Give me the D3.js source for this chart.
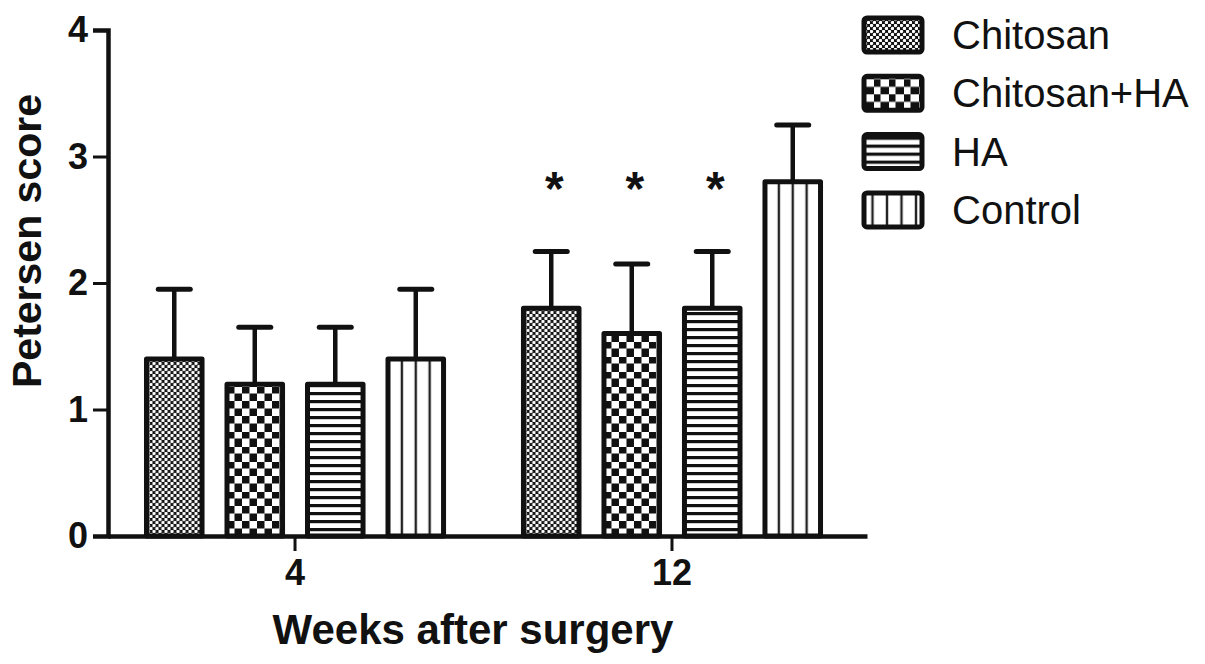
<!DOCTYPE html>
<html>
<head>
<meta charset="utf-8">
<script src="https://cdn.jsdelivr.net/npm/d3@7"></script>
<style>
  html, body { margin: 0; padding: 0; background: #fff; }
  svg { display: block; }
  text { font-family: "Liberation Sans", Arial, Helvetica, sans-serif; fill: #111; }
</style>
</head>
<body>
<svg id="chart" width="1205" height="664"></svg>
<script>
// ---------- data ----------
const groups = ["4", "12"];
const series = ["Chitosan", "Chitosan+HA", "HA", "Control"];
const means = {
  "4":  [1.4, 1.2, 1.2, 1.4],
  "12": [1.8, 1.6, 1.8, 2.8]
};
const sds = {
  "4":  [0.55, 0.45, 0.45, 0.55],
  "12": [0.45, 0.55, 0.45, 0.45]
};
const significant = {
  "4":  [false, false, false, false],
  "12": [true, true, true, false]
};
const sigLevel = 2.8;
const yTicks = [0, 1, 2, 3, 4];
const xTitle = "Weeks after surgery";
const yTitle = "Petersen score";
const patternKinds = ["dots", "checker", "hlines", "vlines"];

// ---------- layout ----------
const svg = d3.select("#chart");
const defs = svg.append("defs");
const axisX = 108, axisRight = 867, plotTop = 30, plotBottom = 536;

const y = d3.scaleLinear().domain([0, 4]).range([plotBottom, plotTop]);
const x0 = d3.scaleBand().domain(groups).range([axisX, axisRight])
  .paddingInner(0.212).paddingOuter(0.1127).align(0.453);
const x1 = d3.scaleBand().domain(series).range([0, x0.bandwidth()])
  .paddingInner(0.31).paddingOuter(0);

let pid = 0;
function makePattern(kind, bx, by, bw) {
  const id = "pat" + (pid++);
  let p;
  if (kind === "dots") {
    p = defs.append("pattern").attr("id", id).attr("patternUnits", "userSpaceOnUse")
      .attr("x", bx).attr("y", by).attr("width", 6).attr("height", 6);
    p.append("rect").attr("width", 6).attr("height", 6).attr("fill", "#111");
    p.append("circle").attr("cx", 1.5).attr("cy", 1.5).attr("r", 1.7).attr("fill", "#fff");
    p.append("circle").attr("cx", 4.5).attr("cy", 4.5).attr("r", 1.7).attr("fill", "#fff");
  } else if (kind === "checker") {
    const s = 7.5;
    p = defs.append("pattern").attr("id", id).attr("patternUnits", "userSpaceOnUse")
      .attr("x", bx).attr("y", by).attr("width", 2 * s).attr("height", 2 * s);
    p.append("rect").attr("width", 2 * s).attr("height", 2 * s).attr("fill", "#fff");
    p.append("rect").attr("x", 0).attr("y", 0).attr("width", s).attr("height", s).attr("fill", "#111");
    p.append("rect").attr("x", s).attr("y", s).attr("width", s).attr("height", s).attr("fill", "#111");
  } else if (kind === "hlines") {
    p = defs.append("pattern").attr("id", id).attr("patternUnits", "userSpaceOnUse")
      .attr("x", bx).attr("y", by).attr("width", 8).attr("height", 8);
    p.append("rect").attr("width", 8).attr("height", 8).attr("fill", "#fff");
    p.append("rect").attr("y", 0).attr("width", 8).attr("height", 3.2).attr("fill", "#111");
  } else {
    const w = bw / 4;
    p = defs.append("pattern").attr("id", id).attr("patternUnits", "userSpaceOnUse")
      .attr("x", bx).attr("y", by).attr("width", w).attr("height", 10);
    p.append("rect").attr("width", w).attr("height", 10).attr("fill", "#fff");
    p.append("rect").attr("x", -1.2).attr("width", 2.4).attr("height", 10).attr("fill", "#222");
    p.append("rect").attr("x", w - 1.2).attr("width", 2.4).attr("height", 10).attr("fill", "#222");
  }
  return "url(#" + id + ")";
}

// ---------- bars ----------
const g = svg.append("g");
groups.forEach(grp => {
  series.forEach((s, i) => {
    const bx = x0(grp) + x1(s);
    const bw = x1.bandwidth();
    const m = means[grp][i], sd = sds[grp][i];
    const cx = bx + bw / 2;
    g.append("line").attr("x1", cx).attr("x2", cx).attr("y1", y(m)).attr("y2", y(m + sd))
      .attr("stroke", "#111").attr("stroke-width", 4.5);
    g.append("line").attr("x1", cx - 16).attr("x2", cx + 16).attr("y1", y(m + sd)).attr("y2", y(m + sd))
      .attr("stroke", "#111").attr("stroke-width", 5).attr("stroke-linecap", "round");
    g.append("rect").attr("x", bx).attr("y", y(m)).attr("width", bw).attr("height", y(0) - y(m))
      .attr("fill", makePattern(patternKinds[i], bx, y(0), bw))
      .attr("stroke", "#111").attr("stroke-width", 5).attr("stroke-linejoin", "round");
    if (significant[grp][i]) {
      g.append("text").attr("x", cx + 3).attr("y", y(sigLevel) + 23)
        .attr("text-anchor", "middle").attr("font-size", 48).attr("font-weight", "bold").text("*");
    }
  });
});

// ---------- axes ----------
const yAxis = svg.append("g").attr("transform", `translate(${axisX},0)`)
  .call(d3.axisLeft(y).tickValues(yTicks).tickFormat(d3.format("d")).tickSize(15).tickPadding(5));
yAxis.select(".domain").attr("stroke", "#111").attr("stroke-width", 4.5);
yAxis.selectAll(".tick line").attr("stroke", "#111").attr("stroke-width", 3);
yAxis.selectAll(".tick text").attr("font-size", 36).attr("font-weight", "bold")
  .attr("font-family", "Liberation Sans, Arial, sans-serif").attr("fill", "#111");

const xAxis = svg.append("g").attr("transform", `translate(0,${plotBottom})`)
  .call(d3.axisBottom(x0).tickSize(15).tickSizeOuter(0).tickPadding(8));
xAxis.select(".domain").attr("stroke", "#111").attr("stroke-width", 4.5);
xAxis.selectAll(".tick line").attr("stroke", "#111").attr("stroke-width", 3);
xAxis.selectAll(".tick text").attr("font-size", 36).attr("font-weight", "bold")
  .attr("font-family", "Liberation Sans, Arial, sans-serif").attr("fill", "#111");

// titles
svg.append("text").attr("x", 473).attr("y", 644).attr("text-anchor", "middle")
  .attr("font-size", 42).attr("font-weight", "bold").text(xTitle);
svg.append("text").attr("transform", "translate(41,241) rotate(-90)").attr("text-anchor", "middle")
  .attr("font-size", 41).attr("font-weight", "bold").text(yTitle);

// ---------- legend ----------
const legX = 864, legY = 18;
const leg = svg.append("g").attr("transform", `translate(${legX},${legY})`);
series.forEach((s, i) => {
  const ly = i * 58.3;
  const sw = 58, sh = 34;
  leg.append("rect").attr("x", 0).attr("y", ly).attr("width", sw).attr("height", sh).attr("rx", 3)
    .attr("fill", makePattern(patternKinds[i], legX, legY + ly, sw))
    .attr("stroke", "#111").attr("stroke-width", 5);
  leg.append("text").attr("x", 88).attr("y", ly + sh / 2).attr("dy", "0.35em")
    .attr("font-size", 40).text(s);
});
</script>
</body>
</html>
